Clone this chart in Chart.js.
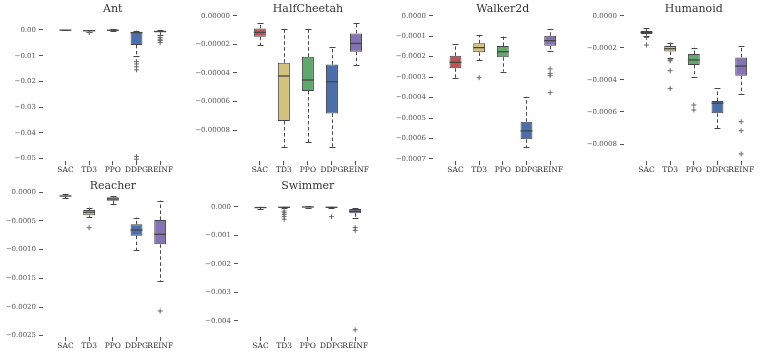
<!DOCTYPE html>
<html>
<head>
<meta charset="utf-8">
<script src="https://cdn.jsdelivr.net/npm/chart.js@4.4.1/dist/chart.umd.min.js"></script>
<style>
  body { margin: 0; background: #fff; width: 761px; height: 355px; position: relative; overflow: hidden; font-family: 'DejaVu Serif', serif; }
  canvas { position: absolute; }
  .ttl { position: absolute; font-size: 11px; line-height: 12px; color: #333; transform: translateX(-50%); white-space: nowrap; }
</style>
</head>
<body>
<script>
const algorithms = ['SAC', 'TD3', 'PPO', 'DDPG', 'REINF'];

// each row: [whisker low, q1, median, q3, whisker high]
const antStats = [
  [-0.00015, -0.0001, -0.00007, -0.00003, 0.0],
  [-0.0007, -0.0005, -0.0003, -0.0001, 0.0],
  [-0.0005, -0.0002, -0.0001, -0.00005, 0.0003],
  [-0.0101, -0.0058, -0.00105, -0.00066, -0.0003],
  [-0.0019, -0.0009, -0.0006, -0.0004, -0.0002]
];
const antOutliers = [[], [-0.0010], [], [-0.0123, -0.0132, -0.0143, -0.0155, -0.0492, -0.0502], [-0.0029, -0.0036, -0.0041, -0.0049]];
const antTicks = [0, -0.01, -0.02, -0.03, -0.04, -0.05];
const antRange = [-0.0509, 0.0062];

const cheetahStats = [
  [-0.0000205, -0.0000147, -0.0000117, -0.0000089, -0.0000054],
  [-0.0000917, -0.0000737, -0.0000422, -0.0000329, -0.0000093],
  [-0.0000887, -0.0000527, -0.0000450, -0.0000287, -0.0000096],
  [-0.0000917, -0.0000684, -0.0000462, -0.0000341, -0.0000222],
  [-0.0000345, -0.0000252, -0.0000194, -0.0000124, -0.0000049]
];
const cheetahOutliers = [[], [], [], [], []];
const cheetahTicks = [0, -0.00002, -0.00004, -0.00006, -0.00008];
const cheetahRange = [-0.0001017, 0.0000012];

const walkerStats = [
  [-0.000306, -0.000257, -0.000228, -0.000196, -0.000140],
  [-0.000216, -0.000179, -0.000156, -0.000135, -0.000094],
  [-0.000273, -0.000203, -0.000176, -0.000148, -0.000102],
  [-0.000643, -0.000604, -0.000563, -0.000518, -0.000396],
  [-0.000172, -0.000147, -0.000122, -0.000098, -0.000065]
];
const walkerOutliers = [[], [-0.000303], [], [], [-0.000260, -0.000282, -0.000293, -0.000376]];
const walkerTicks = [0, -0.0001, -0.0002, -0.0003, -0.0004, -0.0005, -0.0006, -0.0007];
const walkerRange = [-0.00071, 0.0000083];

const humanoidStats = [
  [-0.000125, -0.000114, -0.000104, -0.000095, -0.000079],
  [-0.000266, -0.000224, -0.000206, -0.000189, -0.000168],
  [-0.000384, -0.000307, -0.000276, -0.000239, -0.000200],
  [-0.000702, -0.000609, -0.000546, -0.000532, -0.000453],
  [-0.000488, -0.000374, -0.000314, -0.000260, -0.000187]
];
const humanoidOutliers = [[-0.000136, -0.000183], [-0.000275, -0.000281, -0.000343, -0.000453], [-0.000557, -0.000588], [], [-0.000661, -0.000717, -0.000862]];
const humanoidTicks = [0, -0.0002, -0.0004, -0.0006, -0.0008];
const humanoidRange = [-0.000906, 0.0000106];

const reacherStats = [
  [-0.000105, -0.00007, -0.000065, -0.00006, -0.00003],
  [-0.000436, -0.000402, -0.000349, -0.000308, -0.000268],
  [-0.000204, -0.000146, -0.000117, -0.000088, -0.000065],
  [-0.001006, -0.000756, -0.000657, -0.000558, -0.000442],
  [-0.001547, -0.000907, -0.000733, -0.000483, -0.000145]
];
const reacherOutliers = [[], [-0.000617], [], [], [-0.00207]];
const reacherTicks = [0, -0.0005, -0.0010, -0.0015, -0.0020, -0.0025];
const reacherRange = [-0.002523, 0.00004];

const swimmerStats = [
  [-0.00008, -0.00004, -0.00003, -0.00001, 0.0],
  [-0.00006, -0.00004, -0.00002, -0.00001, 0.0],
  [-0.00003, -0.00002, -0.00001, 0.0, 0.00001],
  [-0.00006, -0.00004, -0.00002, -0.00001, 0.0],
  [-0.00041, -0.00023, -0.00016, -0.00008, -0.00006]
];
const swimmerOutliers = [[], [-0.00015, -0.00021, -0.00027, -0.00034, -0.00044], [], [-0.00035], [-0.00073, -0.00083, -0.00431]];
const swimmerTicks = [0, -0.001, -0.002, -0.003, -0.004];
const swimmerRange = [-0.00456, 0.000584];

// styles
const boxColors = ['#bf5255', '#d2c27e', '#63a76e', '#4c6faa', '#8474b3'];
const edgeGray = '#464646';

Chart.defaults.font.family = "'DejaVu Serif', serif";
Chart.defaults.animation = false;

const rows = [
  { top: 0, height: 178, areaTop: 14, areaBottom: 161, titleTop: 3 },
  { top: 178, height: 177, areaTop: 12, areaBottom: 159, titleTop: 180 }
];
const AXIS_W = 43, AREA_W = 131;

const panels = [
  { title: 'Ant', stats: antStats, outliers: antOutliers, ticks: antTicks, range: antRange, dec: 2, left: 43, row: 0 },
  { title: 'HalfCheetah', stats: cheetahStats, outliers: cheetahOutliers, ticks: cheetahTicks, range: cheetahRange, dec: 5, left: 237, row: 0 },
  { title: 'Walker2d', stats: walkerStats, outliers: walkerOutliers, ticks: walkerTicks, range: walkerRange, dec: 4, left: 433, row: 0 },
  { title: 'Humanoid', stats: humanoidStats, outliers: humanoidOutliers, ticks: humanoidTicks, range: humanoidRange, dec: 4, left: 624, row: 0 },
  { title: 'Reacher', stats: reacherStats, outliers: reacherOutliers, ticks: reacherTicks, range: reacherRange, dec: 4, left: 43, row: 1 },
  { title: 'Swimmer', stats: swimmerStats, outliers: swimmerOutliers, ticks: swimmerTicks, range: swimmerRange, dec: 3, left: 238, row: 1 }
];

function fmt(v, dec) {
  if (v === 0) return (0).toFixed(dec);
  return (v < 0 ? '\u2212' : '') + Math.abs(v).toFixed(dec);
}

// whiskers, caps and medians drawn with the chart's own scales
function boxPlugin(stats) {
  return {
    id: 'boxparts',
    beforeDatasetsDraw(chart) {
      const { ctx, scales: { x, y } } = chart;
      const bars = chart.getDatasetMeta(0).data;
      ctx.save();
      ctx.strokeStyle = edgeGray;
      ctx.lineWidth = 1;
      stats.forEach((s, i) => {
        const cx = Math.round(x.getPixelForValue(i)) + 0.5;
        const capHalf = bars[i].width / 4;
        ctx.setLineDash([3.5, 2.5]);
        ctx.beginPath();
        ctx.moveTo(cx, y.getPixelForValue(s[1]));
        ctx.lineTo(cx, y.getPixelForValue(s[0]));
        ctx.moveTo(cx, y.getPixelForValue(s[3]));
        ctx.lineTo(cx, y.getPixelForValue(s[4]));
        ctx.stroke();
        ctx.setLineDash([]);
        ctx.beginPath();
        [s[0], s[4]].forEach(v => {
          const py = Math.round(y.getPixelForValue(v)) + 0.5;
          ctx.moveTo(cx - capHalf, py);
          ctx.lineTo(cx + capHalf, py);
        });
        ctx.stroke();
      });
      ctx.restore();
    },
    afterDatasetsDraw(chart) {
      const { ctx, scales: { x, y } } = chart;
      const bars = chart.getDatasetMeta(0).data;
      ctx.save();
      ctx.strokeStyle = edgeGray;
      ctx.lineWidth = 1.3;
      stats.forEach((s, i) => {
        const cx = x.getPixelForValue(i);
        const half = bars[i].width / 2;
        const py = y.getPixelForValue(s[2]);
        ctx.beginPath();
        ctx.moveTo(cx - half, py);
        ctx.lineTo(cx + half, py);
        ctx.stroke();
      });
      ctx.restore();
    }
  };
}

panels.forEach(p => {
  const row = rows[p.row];
  const canvas = document.createElement('canvas');
  const cw = AXIS_W + AREA_W + 3;
  canvas.width = cw;
  canvas.height = row.height;
  canvas.style.left = (p.left - AXIS_W) + 'px';
  canvas.style.top = row.top + 'px';
  canvas.style.width = cw + 'px';
  canvas.style.height = row.height + 'px';
  document.body.appendChild(canvas);

  const boxData = p.stats.map((s, i) => ({ x: i, y: [s[1], s[3]] }));
  const outData = [];
  p.outliers.forEach((list, i) => list.forEach(v => outData.push({ x: i, y: v })));

  const chart = new Chart(canvas, {
    type: 'bar',
    data: {
      datasets: [
        {
          data: boxData,
          backgroundColor: boxColors,
          borderColor: edgeGray,
          borderWidth: 1,
          borderSkipped: false,
          barPercentage: 0.5,
          categoryPercentage: 1
        },
        {
          type: 'scatter',
          data: outData,
          pointStyle: 'cross',
          radius: 2.5,
          borderColor: '#6a6a6a',
          borderWidth: 1
        }
      ]
    },
    options: {
      responsive: false,
      devicePixelRatio: 1,
      layout: { padding: { top: row.areaTop, left: 0, right: 3, bottom: 0 } },
      plugins: { legend: { display: false }, tooltip: { enabled: false }, title: { display: false } },
      scales: {
        x: {
          type: 'linear',
          min: -0.95,
          max: 4.5,
          offset: false,
          afterBuildTicks: s => { s.ticks = algorithms.map((a, i) => ({ value: i })); },
          afterFit: s => { s.height = row.height - row.areaBottom; },
          ticks: {
            autoSkip: false,
            maxRotation: 0,
            padding: 1,
            color: '#333',
            font: { size: 7.5 },
            callback: v => algorithms[v]
          },
          grid: { drawOnChartArea: false, offset: false, tickLength: 4, color: '#555' },
          border: { display: false }
        },
        y: {
          min: p.range[0],
          max: p.range[1],
          afterBuildTicks: s => { s.ticks = p.ticks.map(v => ({ value: v })); },
          afterFit: s => { s.width = AXIS_W; },
          ticks: {
            padding: 3,
            color: '#555',
            font: { size: 7 },
            callback: v => fmt(v, p.dec)
          },
          grid: { drawOnChartArea: false, tickLength: 4, color: '#555' },
          border: { display: false }
        }
      }
    },
    plugins: [boxPlugin(p.stats)]
  });

  const t = document.createElement('div');
  t.className = 'ttl';
  t.textContent = p.title;
  t.style.left = (p.left - AXIS_W + chart.scales.x.getPixelForValue(2)) + 'px';
  t.style.top = row.titleTop + 'px';
  document.body.appendChild(t);
});
</script>
</body>
</html>
